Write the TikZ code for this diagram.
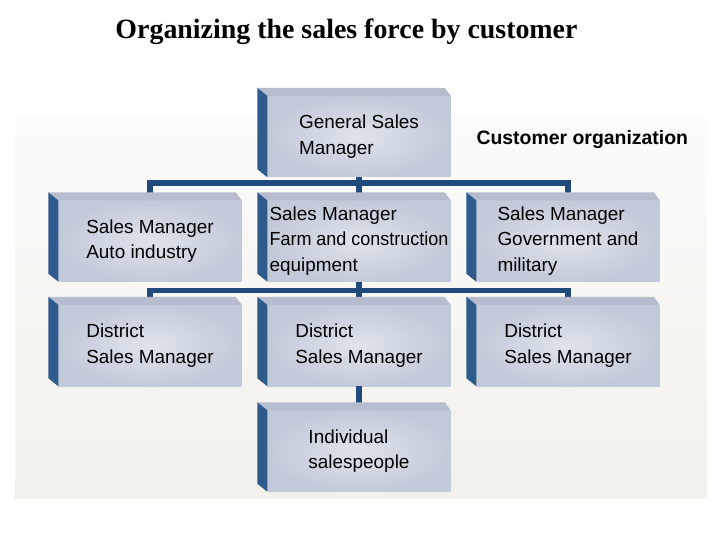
\documentclass[tikz,border=0pt]{standalone}
\usepackage{fontspec}
\setmainfont{Liberation Sans}
\newfontfamily\titlefont{Liberation Serif}
\usepackage{tikz}

\definecolor{barblue}{HTML}{1F4B7C}
\definecolor{sideblue}{HTML}{2E5A8C}
\definecolor{facelight}{HTML}{DFE3EC}
\definecolor{facedark}{HTML}{C2CAD9}
\definecolor{topgrey}{HTML}{B5BDCE}
\definecolor{paneltop}{HTML}{FBFBFA}
\definecolor{panelbot}{HTML}{F3F1EC}

\tikzset{
	orgbox/.style={minimum width=183bp, minimum height=81bp, inner sep=0pt,
		align=left, inner color=facelight, outer color=facedark,
		font=\fontsize{19}{25.5}\selectfont},
	orgbar/.style={draw=barblue, line width=5.5bp},
}

% 3D side and top of a box
\newcommand{\bevel}[1]{%
	\fill[topgrey] ([xshift=-10bp,yshift=8bp]#1.north west) -- ([xshift=-6bp,yshift=8bp]#1.north east)
		-- (#1.north east) -- (#1.north west) -- cycle;
	\fill[sideblue] ([xshift=-10bp,yshift=8bp]#1.north west) -- (#1.north west)
		-- (#1.south west) -- ([xshift=-10bp,yshift=8bp]#1.south west) -- cycle;
}

\begin{document}
\begin{tikzpicture}[x=1bp, y=-1bp]
	\useasboundingbox (0,0) rectangle (720,540);
	\shade[top color=paneltop, bottom color=panelbot] (15,118) rectangle (707,498);

	\node[font=\titlefont\bfseries\fontsize{28}{32}\selectfont] (title) at (346.5,32) {Organizing the sales force by customer};
	\node[font=\bfseries\fontsize{19.5}{23}\selectfont, anchor=west] (custorg) at (473,140) {Customer organization};

	% boxes
	\node[orgbox] (gsm) at (359,136.5) {General Sales\\Manager};
	\node[orgbox] (auto) at (150,241) {Sales Manager\\Auto industry};
	\node[orgbox] (farm) at (359,241) {Sales Manager\\\scalebox{0.95}[1]{Farm and construction}\\equipment};
	\node[orgbox] (gov) at (568,241) {Sales Manager\\Government and\\military};
	\node[orgbox] (dsmA) at (150,345.5) {District\\Sales Manager};
	\node[orgbox] (dsmB) at (359,345.5) {District\\Sales Manager};
	\node[orgbox] (dsmC) at (568,345.5) {District\\Sales Manager};
	\node[orgbox] (indiv) at (359,451) {Individual\\salespeople};

	% connectors
	\draw[orgbar] (gsm.south) -- ++(0,6) -| (auto.north);
	\draw[orgbar] (gsm.south) -- ++(0,6) -| (gov.north);
	\draw[orgbar] (gsm.south) -- (farm.north);
	\draw[orgbar] (farm.south) -- ++(0,9) -| (dsmA.north);
	\draw[orgbar] (farm.south) -- ++(0,9) -| (dsmC.north);
	\draw[orgbar] (farm.south) -- (dsmB.north);
	\draw[orgbar] (dsmB.south) -- (indiv.north);

	\foreach \b in {gsm,auto,farm,gov,dsmA,dsmB,dsmC,indiv}
		{\bevel{\b}}
\end{tikzpicture}
\end{document}
